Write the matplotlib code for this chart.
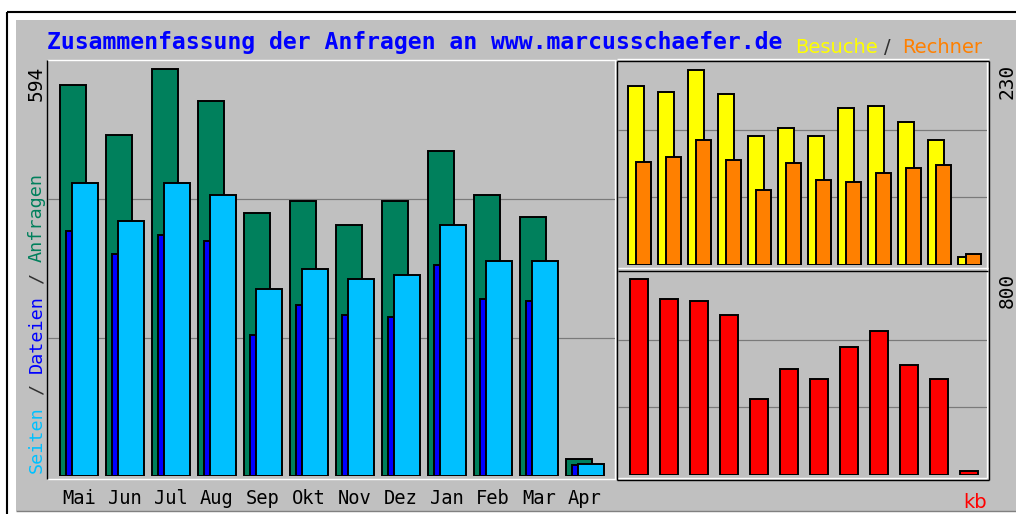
import matplotlib
matplotlib.use("Agg")
import matplotlib.pyplot as plt
from matplotlib.patches import Rectangle

# monthly values
months = ["Mai", "Jun", "Jul", "Aug", "Sep", "Okt", "Nov", "Dez", "Jan", "Feb", "Mar", "Apr"]
anfragen = [571, 498, 594, 547, 384, 401, 366, 401, 474, 410, 378, 25]   # green
dateien = [358, 324, 352, 343, 206, 250, 235, 232, 308, 258, 255, 16]    # blue
seiten = [428, 372, 428, 410, 273, 302, 288, 293, 366, 314, 314, 18]     # cyan
besuche = [211, 204, 230, 202, 152, 162, 152, 185, 187, 169, 148, 9]     # yellow
rechner = [122, 127, 148, 124, 89, 120, 100, 98, 108, 115, 118, 13]      # orange
kbytes = [800, 717, 710, 653, 310, 433, 392, 521, 588, 449, 392, 18]     # red

max_left = 594
max_visits = 230
max_kb = 800

W, H = 1016, 514
GRAY = "#c0c0c0"
GRID = "#7a7a7a"
PX = 0.72  # one pixel in points at dpi 100

fig = plt.figure(figsize=(W / 100, H / 100), dpi=100, facecolor="white")

# background axes in pixel coordinates (y downwards)
bg = fig.add_axes([0, 0, 1, 1], zorder=0)
bg.set_xlim(0, W)
bg.set_ylim(H, 0)
bg.axis("off")


def line(xs, ys, c, lw=1.0):
    bg.plot(xs, ys, color=c, lw=lw * PX * 1.4, solid_capstyle="butt")


bg.add_patch(Rectangle((16, 20), W - 16, 491, facecolor=GRAY, edgecolor="none"))
line([7, 7], [12, H], "black", 1.5)
line([7, W], [12, 12], "black", 1.5)
line([16, W], [511, 511], "#808080")

# left panel frame
line([47, 616], [60, 60], "white")
line([47, 616], [479, 479], "white")
line([615, 615], [60, 479], "white")
line([47, 47], [60, 479], "black")

# right panels frame
line([617, 989], [59, 59], "white")
line([617, 989], [61, 61], "black")
line([617, 617], [61, 480], "black")
line([989, 989], [61, 480], "black")
line([617, 989], [480, 480], "black")
line([987, 987], [62, 478], "white")
line([618, 987], [478, 478], "white")
line([618, 988], [268, 268], "white")
line([618, 988], [271, 271], "black")


def pxrect(x0, y0, x1, y1):
    return [x0 / W, 1 - y1 / H, (x1 - x0) / W, (y1 - y0) / H]


def setup(ax, ymax_label, top_px, base_px, label_px):
    # label_px: pixel row where the max label value sits
    ymax = ymax_label * (base_px - top_px) / (base_px - label_px)
    ax.set_ylim(0, ymax)
    ax.set_facecolor("none")
    for s in ax.spines.values():
        s.set_visible(False)
    ax.set_yticks([])
    for k in (1, 2):
        ax.axhline(ymax * k / 3, color=GRID, lw=PX * 1.2, zorder=0.5)


edge = dict(edgecolor="black", linewidth=1.4, align="edge")
xs = list(range(len(months)))

# left: Anfragen / Dateien / Seiten
ax = fig.add_axes(pxrect(48, 61, 615, 476), zorder=1)
setup(ax, max_left, 61, 476, 69)
ax.set_xlim((48 - 60) / 46, (615 - 60) / 46)
ax.bar(xs, anfragen, width=26 / 46, color="#00805c", zorder=2, **edge)
ax.bar([x + 6 / 46 for x in xs], dateien, width=20 / 46, color="#0000ff", zorder=3, **edge)
ax.bar([x + 12 / 46 for x in xs], seiten, width=26 / 46, color="#00c0ff", zorder=4, **edge)
ax.set_xticks([x + 19 / 46 for x in xs])
ax.set_xticklabels(months, family="DejaVu Sans Mono", fontsize=13.5, color="black")
ax.tick_params(axis="x", length=0, pad=9)

# right top: Besuche / Rechner
ax2 = fig.add_axes(pxrect(618, 62, 987, 265), zorder=1)
setup(ax2, max_visits, 62, 265, 70)
ax2.set_xlim((618 - 628) / 30, (987 - 628) / 30)
ax2.bar(xs, besuche, width=16 / 30, color="#ffff00", zorder=2, **edge)
ax2.bar([x + 8 / 30 for x in xs], rechner, width=15 / 30, color="#ff8000", zorder=3, **edge)
ax2.set_xticks([])

# right bottom: kb
ax3 = fig.add_axes(pxrect(618, 272, 987, 475), zorder=1)
setup(ax3, max_kb, 272, 475, 279)
ax3.set_xlim((618 - 630) / 30, (987 - 630) / 30)
ax3.bar(xs, kbytes, width=18 / 30, color="#ff0000", zorder=2, **edge)
ax3.set_xticks([])

# title
bg.text(47, 49, "Zusammenfassung der Anfragen an www.marcusschaefer.de",
        family="DejaVu Sans Mono", fontweight="bold", fontsize=16.7,
        color="#0000ff", ha="left", va="baseline")
bg.text(795, 53, "Besuche", fontsize=14, color="#ffff00", ha="left", va="baseline")
bg.text(887, 53, "/", fontsize=14, color="#303030", ha="center", va="baseline")
bg.text(902, 53, "Rechner", fontsize=14, color="#ff8000", ha="left", va="baseline")

# rotated legend on the left, words placed by monospace character advance
legend_fs = 13.3
adv = 0.60205 * legend_fs * 100 / 72
parts = [("Seiten", "#00c0ff", 0), ("/", "#303030", 7), ("Dateien", "#0000ff", 9),
         ("/", "#303030", 17), ("Anfragen", "#00805c", 19)]
for word, col, pos in parts:
    bg.text(37, 473 - pos * adv, word, family="DejaVu Sans Mono", fontsize=legend_fs,
            color=col, rotation=90, rotation_mode="anchor", ha="left", va="center")

# scale labels
bg.text(36, 66, str(max_left), family="DejaVu Sans Mono", fontsize=14, color="black",
        rotation=90, rotation_mode="anchor", ha="right", va="center")
bg.text(1007, 64, str(max_visits), family="DejaVu Sans Mono", fontsize=14, color="black",
        rotation=90, rotation_mode="anchor", ha="right", va="center")
bg.text(1007, 273, str(max_kb), family="DejaVu Sans Mono", fontsize=14, color="black",
        rotation=90, rotation_mode="anchor", ha="right", va="center")
bg.text(975, 508, "kb", fontsize=14, color="#ff0000", ha="center", va="baseline")

fig.savefig("out.png", dpi=100, facecolor="white")
